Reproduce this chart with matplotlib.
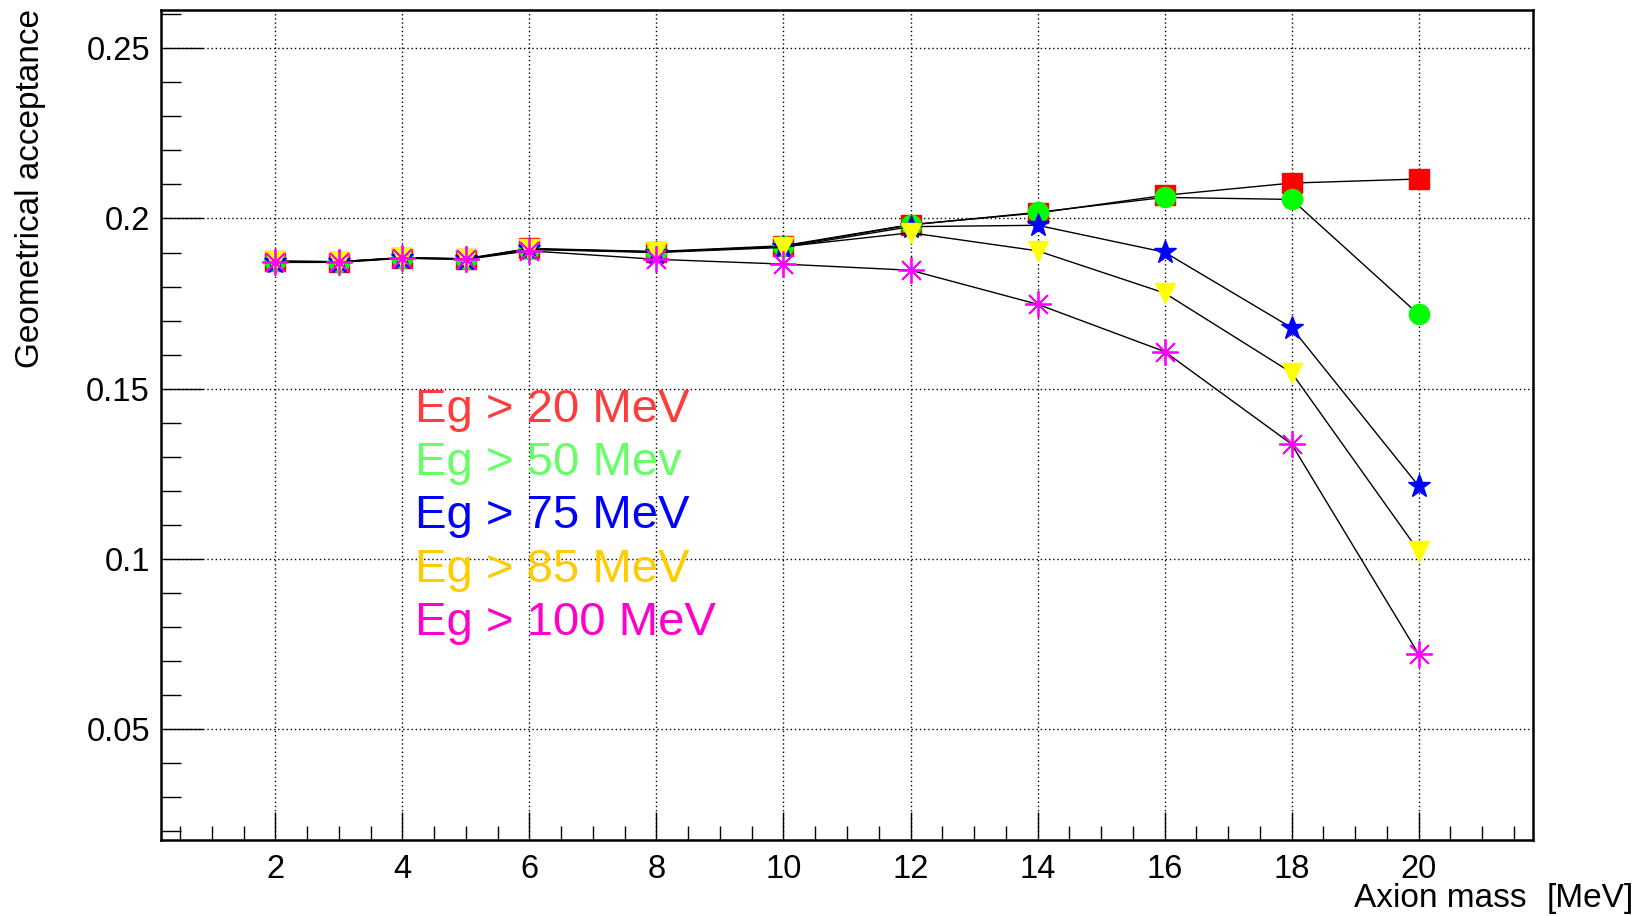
import matplotlib.pyplot as plt
from matplotlib.ticker import MultipleLocator, FixedLocator, FixedFormatter

plt.rcParams['font.family'] = ['Liberation Sans', 'DejaVu Sans']

# axion mass points [MeV]
mass = [2, 3, 4, 5, 6, 8, 10, 12, 14, 16, 18, 20]

# geometrical acceptance for each photon energy cut
acc_20 = [0.1875, 0.1873, 0.1885, 0.1882, 0.1912, 0.1903, 0.1920, 0.1982, 0.2016, 0.2068, 0.2104, 0.2116]
acc_50 = [0.1874, 0.1873, 0.1884, 0.1881, 0.1910, 0.1902, 0.1918, 0.1981, 0.2018, 0.2062, 0.2056, 0.1718]
acc_75 = [0.1873, 0.1872, 0.1884, 0.1880, 0.1909, 0.1900, 0.1915, 0.1976, 0.1980, 0.1901, 0.1679, 0.1214]
acc_85 = [0.1874, 0.1873, 0.1885, 0.1881, 0.1911, 0.1901, 0.1917, 0.1958, 0.1905, 0.1781, 0.1547, 0.1023]
acc_100 = [0.1871, 0.1871, 0.1883, 0.1880, 0.1905, 0.1880, 0.1866, 0.1848, 0.1748, 0.1609, 0.1337, 0.0720]

labels = ["Eg > 20 MeV", "Eg > 50 Mev", "Eg > 75 MeV", "Eg > 85 MeV", "Eg > 100 MeV"]
text_colors = ["#ff3b3b", "#66ff66", "#0000ff", "#ffcc00", "#ff00cc"]

ytick_vals = [0.05, 0.1, 0.15, 0.2, 0.25]
ytick_labels = ["0.05", "0.1", "0.15", "0.2", "0.25"]
xtick_vals = [2, 4, 6, 8, 10, 12, 14, 16, 18, 20]

fig = plt.figure(figsize=(16.45, 9.16), dpi=100)
ax = fig.add_axes([161 / 1645, 1 - 840 / 916, (1533 - 161) / 1645, (840 - 9.5) / 916])

# draw order like the original: red, green, blue, yellow, magenta
ax.plot(mass, acc_20, color="black", lw=1.0, marker="s", ms=15, mfc="#ff0000", mec="#ff0000", zorder=3)
ax.plot(mass, acc_50, color="black", lw=1.0, marker="o", ms=14.5, mfc="#00ff00", mec="#00ff00", zorder=4)
ax.plot(mass, acc_75, color="black", lw=1.0, marker="*", ms=17, mfc="#0000ff", mec="#0000ff", zorder=5)
ax.plot(mass, acc_85, color="black", lw=1.0, marker="v", ms=14, mfc="#ffff00", mec="#ffff00", zorder=6)
ax.plot(mass, acc_100, color="black", lw=1.0, marker=(8, 2, 0), ms=19, mfc="#ff00ff", mec="#ff00ff",
        mew=1.3, zorder=7)

ax.set_xlim(0.2, 21.8)
ax.set_ylim(0.0174, 0.2614)

ax.xaxis.set_major_locator(FixedLocator(xtick_vals))
ax.xaxis.set_minor_locator(MultipleLocator(0.5))
ax.yaxis.set_major_locator(FixedLocator(ytick_vals))
ax.yaxis.set_major_formatter(FixedFormatter(ytick_labels))
ax.yaxis.set_minor_locator(MultipleLocator(0.01))

ax.tick_params(axis="both", which="both", direction="in", top=False, right=False, width=1.0)
ax.tick_params(axis="x", which="major", length=20, labelsize=23.5, pad=10)
ax.tick_params(axis="x", which="minor", length=10)
ax.tick_params(axis="y", which="major", length=30, labelsize=23.5, pad=8)
ax.tick_params(axis="y", which="minor", length=14.5)

ax.grid(True, which="major", color="black", linestyle=(0, (1, 2)), linewidth=1.0, zorder=1)
for s in ax.spines.values():
    s.set_linewidth(1.8)

# coloured labels instead of a legend box
for i in range(len(labels)):
    fig.text(415 / 1645, 1 - (421.7 + 53.4 * i) / 916, labels[i], color=text_colors[i],
             fontsize=34, ha="left", va="baseline")

fig.text(31 / 1645, 1 - 9 / 916, "Geometrical acceptance", rotation=90, fontsize=24,
         ha="center", va="top")
fig.text(1527 / 1645, 1 - 907 / 916, "Axion mass", fontsize=24, ha="right", va="baseline")
fig.text(1634 / 1645, 1 - 907 / 916, "[MeV]", fontsize=24, ha="right", va="baseline")

fig.savefig("out.png", dpi=100)
